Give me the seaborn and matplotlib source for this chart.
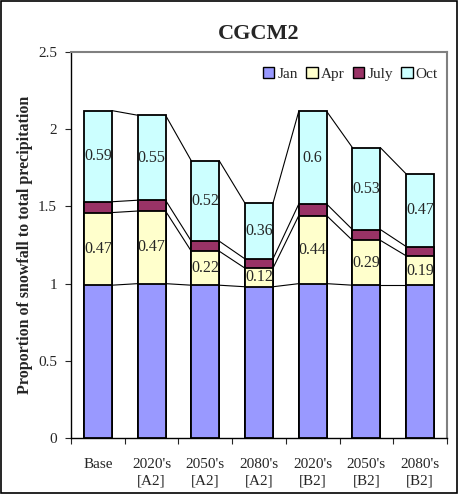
import numpy as np
import pandas as pd
import matplotlib.pyplot as plt
import seaborn as sns

# values
scenarios = ["Base", "2020's\n[A2]", "2050's\n[A2]", "2080's\n[A2]", "2020's\n[B2]", "2050's\n[B2]", "2080's\n[B2]"]
jan = [0.99, 1.00, 0.99, 0.98, 1.00, 0.99, 0.99]
apr = [0.47, 0.47, 0.22, 0.12, 0.44, 0.29, 0.19]
july = [0.07, 0.07, 0.065, 0.06, 0.075, 0.07, 0.06]
octo = [0.59, 0.55, 0.52, 0.36, 0.60, 0.53, 0.47]

months = ["Jan", "Apr", "July", "Oct"]
colors = ["#9999FF", "#FFFFCC", "#993366", "#CCFFFF"]

df = pd.DataFrame({"Scenario": scenarios, "Jan": jan, "Apr": apr, "July": july, "Oct": octo})
cum = df[months].cumsum(axis=1)

sns.set_style("ticks")
plt.rcParams["font.family"] = ["Liberation Serif", "DejaVu Serif"]

fig = plt.figure(figsize=(4.58, 4.94), dpi=100)
ax = fig.add_axes([0.155, 0.113, 0.821, 0.782])
w = 0.52

# stacked bars drawn as overlapping cumulative totals, top series first
for m, c in reversed(list(zip(months, colors))):
    sns.barplot(data=cum.assign(Scenario=scenarios), x="Scenario", y=m, color=c,
                edgecolor="black", linewidth=1.3, width=w, saturation=1, ax=ax, zorder=3)

# series lines between bars
for m in months:
    vals = cum[m].values
    for i in range(len(vals) - 1):
        ax.plot([i + w / 2, i + 1 - w / 2], [vals[i], vals[i + 1]], color="black", lw=0.8, zorder=2)

# data labels for Apr and Oct
for i in range(len(scenarios)):
    ax.text(i, cum["Jan"][i] + apr[i] / 2, f"{apr[i]:g}", ha="center", va="center", fontsize=11.5, zorder=4)
    ax.text(i, cum["July"][i] + octo[i] / 2, f"{octo[i]:g}", ha="center", va="center", fontsize=11.5, zorder=4)

ax.set_xlim(-0.5, len(scenarios) - 0.5)
ax.set_ylim(0, 2.5)
ax.set_yticks([0, 0.5, 1, 1.5, 2, 2.5])
ax.set_yticklabels(["0", "0.5", "1", "1.5", "2", "2.5"])
ax.set_xticks(np.arange(-0.5, len(scenarios), 1), minor=True)
ax.tick_params(axis="x", which="major", length=0, labelsize=11, pad=14)
ax.tick_params(axis="x", which="minor", length=4, direction="out", width=0.8)
ax.tick_params(axis="y", labelsize=11, length=4, width=0.8, pad=6)
for lbl in ax.get_xticklabels():
    lbl.set_linespacing(1.35)
ax.set_xlabel("")
ax.set_ylabel("Proportion of snowfall to total precipitation", fontsize=11.5, fontweight="bold", labelpad=4)
ax.set_title("CGCM2", fontsize=16, fontweight="bold", pad=9)

for s in ["left", "bottom"]:
    ax.spines[s].set_color("black")
    ax.spines[s].set_linewidth(1.0)
for s in ["top", "right"]:
    ax.spines[s].set_visible(True)
    ax.spines[s].set_color("#808080")
    ax.spines[s].set_linewidth(1.5)

handles = [plt.Rectangle((0, 0), 1, 1, facecolor=c, edgecolor="black", lw=1) for c in colors]
ax.legend(handles, months, ncol=4, loc="upper right", bbox_to_anchor=(1.0, 0.985), frameon=False,
          fontsize=11, handlelength=0.75, handleheight=0.75, handletextpad=0.2, columnspacing=0.55,
          borderaxespad=0.2)

fig.patches.append(plt.Rectangle((0.002, 0.002), 0.996, 0.996, transform=fig.transFigure,
                                 fill=False, edgecolor="black", lw=1.2))

fig.savefig("out.png", dpi=100)
